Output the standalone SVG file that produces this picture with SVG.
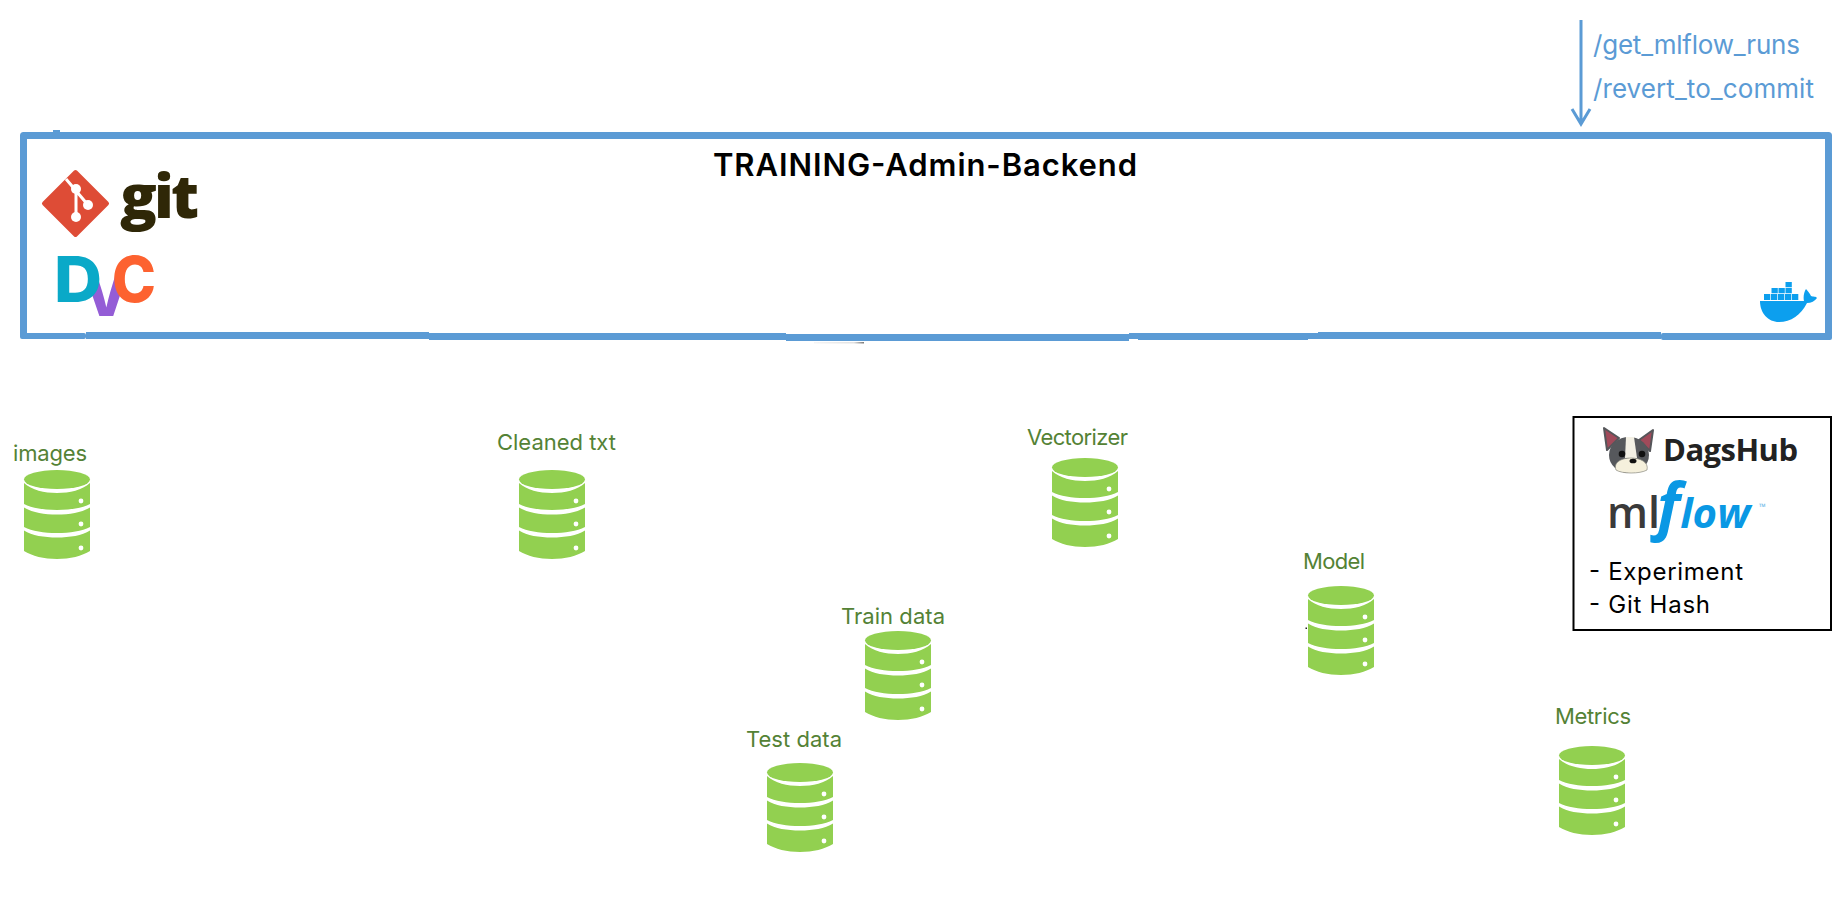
<svg xmlns="http://www.w3.org/2000/svg" width="1846" height="917" viewBox="0 0 1846 917">
<style>
.lbl{font-family:"Inter","Liberation Sans",sans-serif;font-size:22px;fill:#548235}
.api{font-family:"Inter","Liberation Sans",sans-serif;font-size:26px;fill:#5b9bd5}
.note{font-family:"Inter","Liberation Sans",sans-serif;font-size:24px;fill:#000}
.bar{fill:#5b9bd5}
</style>
<defs>
<g id="db">
<ellipse cx="33" cy="9.500" rx="33" ry="9.500" fill="#92d050"/>
<path fill="#92d050" d="M0 13C8 20 20 23 33 23S58 20 66 13V34C58 38 46 40 33 40S8 38 0 34Z"/>
<path fill="#92d050" d="M0 37.500C8 42.500 20 44.500 33 44.500S58 42.500 66 37.500V57C58 61 46 63 33 63S8 61 0 57Z"/>
<path fill="#92d050" d="M0 60.500C8 65.500 20 67.500 33 67.500S58 65.500 66 60.500V81C58 86 46 89 33 89S8 86 0 81Z"/>
<circle cx="57" cy="31" r="2.400" fill="#fff"/>
<circle cx="57" cy="54" r="2.400" fill="#fff"/>
<circle cx="57" cy="78" r="2.400" fill="#fff"/>
</g>
<linearGradient id="nub"><stop offset="0" stop-color="#f5f5f5"/><stop offset="0.8" stop-color="#e2e2e2"/><stop offset="1" stop-color="#777777"/></linearGradient>
<clipPath id="vclip"><rect x="92" y="268" width="30" height="52"/></clipPath>
</defs>
<rect width="1846" height="917" fill="#fff"/>

<g id="connectors">
<path d="M1581 20V122M1572 109L1581 124L1590 109" fill="none" stroke="#5b9bd5" stroke-width="3"/>
</g>

<g id="api-labels">
<text class="api" x="1593" y="54" textLength="207">/get_mlflow_runs</text>
<text class="api" x="1593" y="98" textLength="221">/revert_to_commit</text>
</g>

<g id="backend">
<path d="M23.500 336V135.500H1828.500V336" fill="none" stroke="#5b9bd5" stroke-width="7" stroke-linejoin="round"/>
<rect class="bar" x="53" y="130" width="7" height="3"/>
<rect class="bar" x="20" y="333" width="66" height="6" rx="2"/>
<rect class="bar" x="86" y="332" width="343" height="7"/>
<rect class="bar" x="429" y="333" width="357" height="7"/>
<rect class="bar" x="786" y="334" width="343" height="7"/>
<rect class="bar" x="1129" y="333" width="9" height="6"/>
<rect class="bar" x="1138" y="333" width="170" height="7"/>
<rect class="bar" x="1308" y="333" width="10" height="6"/>
<rect class="bar" x="1318" y="332" width="343" height="7"/>
<rect class="bar" x="1661" y="333" width="171" height="7" rx="2"/>
<rect x="814" y="342" width="50" height="1.500" fill="url(#nub)"/>
<text x="713" y="176" font-family="Inter,'Liberation Sans',sans-serif" font-size="31" font-weight="600" fill="#000" textLength="424">TRAINING-Admin-Backend</text>
<g id="git-logo">
<path d="M75.500 172L107 203.500L75.500 235L44 203.500Z" fill="#de4c36" stroke="#de4c36" stroke-width="4" stroke-linejoin="round"/>
<path d="M66 179L88 205M76 190V217" fill="none" stroke="#fff" stroke-width="3"/>
<circle cx="76" cy="189" r="5" fill="#fff"/>
<circle cx="88" cy="205" r="5" fill="#fff"/>
<circle cx="76" cy="217" r="5" fill="#fff"/>
<text x="120" y="218" font-family="'Open Sans','Noto Sans',sans-serif" font-size="61" font-weight="800" fill="#2f2707" textLength="79">git</text>
</g>
<g id="dvc-logo">
<text x="83" y="316" font-family="Inter,'Liberation Sans',sans-serif" font-size="60" font-weight="800" fill="#945dd6" clip-path="url(#vclip)">V</text>
<text x="54" y="302" font-family="Inter,'Liberation Sans',sans-serif" font-size="63" font-weight="800" fill="#0aa9c8" textLength="48" lengthAdjust="spacingAndGlyphs">D</text>
<text x="112" y="302" font-family="Inter,'Liberation Sans',sans-serif" font-size="63" font-weight="800" fill="#fd6230" textLength="44" lengthAdjust="spacingAndGlyphs">C</text>
</g>
<g id="docker-logo" fill="#0c9fee">
<path d="M1760 301H1804C1803 297 1804 292 1806 289C1808 291 1810 294 1811 296C1813 297 1816 296 1817 298C1815 301 1811 303 1807 303C1801 315 1791 322 1779 322C1768 322 1760 313 1760 301Z"/>
<path d="M1764 294h6.300v6h-6.300zM1771 294h6.300v6h-6.300zM1778 294h6.300v6h-6.300zM1785 294h6.300v6h-6.300zM1792 294h6.300v6h-6.300zM1771.500 288h6.300v5.300h-6.300zM1778.500 288h6.300v5.300h-6.300zM1785.500 288h6.300v5.300h-6.300zM1785.500 282h6.300v5.300h-6.300z"/>
</g>
</g>

<g id="images"><text class="lbl" x="13" y="461" textLength="74">images</text><use href="#db" x="24" y="470"/></g>
<g id="cleaned-txt"><text class="lbl" x="497" y="450" textLength="119">Cleaned txt</text><use href="#db" x="519" y="470"/></g>
<g id="vectorizer"><text class="lbl" x="1027" y="445" textLength="101">Vectorizer</text><use href="#db" x="1052" y="458"/></g>
<g id="model"><text class="lbl" x="1303" y="569" textLength="62">Model</text><use href="#db" x="1308" y="586"/><rect x="1305.500" y="627.500" width="1.500" height="1.500" fill="#222"/></g>
<g id="train-data"><text class="lbl" x="841" y="624" textLength="104">Train data</text><use href="#db" x="865" y="631"/></g>
<g id="test-data"><text class="lbl" x="746" y="747" textLength="96">Test data</text><use href="#db" x="767" y="763"/></g>
<g id="metrics"><text class="lbl" x="1555" y="724" textLength="76">Metrics</text><use href="#db" x="1559" y="746"/></g>

<g id="tracking">
<rect x="1573.500" y="417" width="257.500" height="213" fill="#fff" stroke="#000" stroke-width="2"/>
<g id="dagshub-dog">
<path d="M1604 428L1607 450L1619 438Z" fill="#a14a5a" stroke="#55565a" stroke-width="2" stroke-linejoin="round"/>
<path d="M1653 430L1650 451L1639 440Z" fill="#a14a5a" stroke="#55565a" stroke-width="2" stroke-linejoin="round"/>
<ellipse cx="1629" cy="455" rx="20" ry="18" fill="#56585c"/>
<path d="M1626 437H1634L1637 458H1625Z" fill="#f3f0e4"/>
<path d="M1616 470C1613 462 1622 458 1631 458C1640 458 1649 462 1647 470C1640 474 1622 474 1616 470Z" fill="#f5f0dc" stroke="#8a8a80" stroke-width="0.700"/>
<circle cx="1622" cy="454" r="3.300" fill="#111"/>
<circle cx="1642" cy="454" r="3.300" fill="#111"/>
<ellipse cx="1633" cy="461" rx="3.500" ry="2.300" fill="#111"/>
</g>
<text x="1663" y="461" font-family="'Open Sans','Noto Sans',sans-serif" font-size="31" font-weight="700" fill="#222" textLength="135">DagsHub</text>
<text x="1607" y="528" font-family="'Open Sans','Noto Sans',sans-serif" font-size="43" font-weight="600" fill="#3a3a3a">ml</text>
<text x="1657" y="528" font-family="'Open Sans','Noto Sans',sans-serif" font-style="italic" font-weight="700" fill="#0a98e4" font-size="42"><tspan font-size="62">f</tspan>low</text>
<text x="1759" y="510" font-family="'Open Sans',sans-serif" font-size="9" fill="#6bb8e8">™</text>
<text class="note" x="1589" y="580" textLength="154">- Experiment</text>
<text class="note" x="1589" y="613" textLength="121">- Git Hash</text>
</g>
</svg>
